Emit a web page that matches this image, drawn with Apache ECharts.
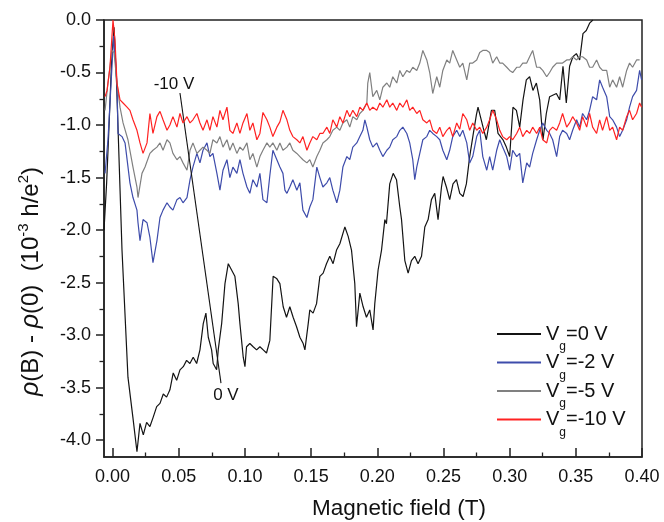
<!DOCTYPE html>
<html><head><meta charset="utf-8">
<script src="https://cdn.jsdelivr.net/npm/echarts@6/dist/echarts.min.js"></script>
<style>html,body{margin:0;padding:0;background:#fff}#c{width:664px;height:522px}</style>
</head><body><div id="c"></div>
<script>
const xMajorTicks = [0, 0.05, 0.10, 0.15, 0.20, 0.25, 0.30, 0.35, 0.40];
const xMinorTicks = [0.025, 0.075, 0.125, 0.175, 0.225, 0.275, 0.325, 0.375];
const yMajorTicks = [0, -0.5, -1.0, -1.5, -2.0, -2.5, -3.0, -3.5, -4.0];
const yMinorTicks = [-0.25, -0.75, -1.25, -1.75, -2.25, -2.75, -3.25, -3.75];
const seriesNames = ['Vg=0 V', 'Vg=-2 V', 'Vg=-5 V', 'Vg=-10 V'];
const legendTails = ['=0 V', '=-2 V', '=-5 V', '=-10 V'];
const seriesColors = ['#141414', '#3e4cab', '#808080', '#ff2222'];
const yAxisTitle = '{r|ρ}{n|(B) - }{r|ρ}{n|(0)  (10}{s|-3}{n| h/e}{s|2}{n|)}';
const xAxisTitle = 'Magnetic field (T)';

const vg0 = [[-0.0065,-2.00],[-0.0045,-1.55],[-0.0025,-0.95],[-0.0008,-0.40],[0.0011,-0.07],[0.0030,-0.60],[0.0071,-2.19],[0.0116,-3.40],[0.0154,-3.79],[0.0184,-4.11],[0.0207,-3.84],[0.0232,-3.95],[0.0257,-3.83],[0.0282,-3.87],[0.0307,-3.78],[0.0333,-3.68],[0.0358,-3.65],[0.0383,-3.56],[0.0408,-3.59],[0.0433,-3.52],[0.0458,-3.36],[0.0484,-3.43],[0.0509,-3.33],[0.0534,-3.30],[0.0559,-3.24],[0.0584,-3.27],[0.0609,-3.21],[0.0635,-3.27],[0.0660,-3.14],[0.0685,-2.89],[0.0705,-2.79],[0.0723,-3.02],[0.0748,-3.14],[0.0760,-3.27],[0.0786,-3.33],[0.0798,-3.14],[0.0824,-2.89],[0.0849,-2.51],[0.0874,-2.32],[0.0899,-2.38],[0.0924,-2.44],[0.0949,-2.70],[0.0962,-2.89],[0.0987,-3.21],[0.1000,-3.30],[0.1012,-3.11],[0.1037,-3.08],[0.1062,-3.11],[0.1088,-3.14],[0.1113,-3.11],[0.1138,-3.14],[0.1163,-3.17],[0.1188,-3.05],[0.1213,-2.44],[0.1239,-2.46],[0.1264,-2.51],[0.1289,-2.73],[0.1314,-2.83],[0.1339,-2.73],[0.1364,-2.83],[0.1390,-2.92],[0.1415,-3.02],[0.1440,-3.08],[0.1453,-3.14],[0.1478,-2.89],[0.1490,-2.76],[0.1515,-2.79],[0.1541,-2.70],[0.1566,-2.44],[0.1591,-2.41],[0.1616,-2.32],[0.1641,-2.25],[0.1666,-2.32],[0.1692,-2.19],[0.1717,-2.13],[0.1755,-1.97],[0.1780,-2.06],[0.1805,-2.19],[0.1830,-2.51],[0.1843,-2.92],[0.1868,-2.60],[0.1893,-2.73],[0.1918,-2.83],[0.1943,-2.76],[0.1968,-2.95],[0.1981,-2.70],[0.2006,-2.38],[0.2032,-2.19],[0.2057,-1.90],[0.2069,-1.94],[0.2094,-1.56],[0.2120,-1.46],[0.2145,-1.52],[0.2170,-1.78],[0.2183,-1.90],[0.2208,-2.29],[0.2233,-2.41],[0.2258,-2.29],[0.2283,-2.25],[0.2308,-2.32],[0.2334,-2.25],[0.2359,-1.97],[0.2384,-1.90],[0.2409,-1.71],[0.2434,-1.65],[0.2459,-1.90],[0.2485,-1.59],[0.2497,-1.49],[0.2522,-1.59],[0.2547,-1.71],[0.2572,-1.56],[0.2598,-1.52],[0.2623,-1.65],[0.2648,-1.68],[0.2673,-1.56],[0.2698,-1.30],[0.2723,-1.10],[0.2749,-0.90],[0.2761,-0.83],[0.2799,-1.02],[0.2824,-1.14],[0.2862,-0.86],[0.2887,-0.86],[0.2912,-1.08],[0.2950,-1.14],[0.2975,-1.21],[0.3000,-1.30],[0.3025,-0.83],[0.3051,-0.86],[0.3076,-1.02],[0.3101,-0.76],[0.3126,-0.57],[0.3151,-0.54],[0.3176,-0.67],[0.3202,-0.60],[0.3227,-0.76],[0.3252,-1.14],[0.3277,-0.89],[0.3302,-0.73],[0.3353,-0.70],[0.3378,-0.76],[0.3403,-0.44],[0.3428,-0.79],[0.3453,-0.44],[0.3478,-0.35],[0.3504,-0.32],[0.3529,-0.38],[0.3554,-0.13],[0.3579,-0.10],[0.3604,-0.03],[0.3629,0.00]];

const vg2 = [[-0.0057,-1.46],[-0.0035,-1.14],[-0.0005,-0.45],[0.0008,-0.15],[0.0033,-0.60],[0.0041,-1.08],[0.0071,-1.11],[0.0094,-1.17],[0.0131,-1.55],[0.0154,-1.69],[0.0184,-1.81],[0.0192,-1.93],[0.0207,-2.10],[0.0230,-1.90],[0.0260,-1.93],[0.0282,-2.07],[0.0305,-2.31],[0.0335,-2.10],[0.0358,-1.88],[0.0381,-1.81],[0.0411,-1.74],[0.0433,-1.78],[0.0456,-1.81],[0.0486,-1.71],[0.0509,-1.69],[0.0532,-1.74],[0.0562,-1.69],[0.0585,-1.52],[0.0607,-1.40],[0.0637,-1.27],[0.0660,-1.36],[0.0683,-1.24],[0.0713,-1.17],[0.0735,-1.30],[0.0758,-1.27],[0.0788,-1.46],[0.0811,-1.62],[0.0834,-1.43],[0.0864,-1.33],[0.0886,-1.50],[0.0909,-1.40],[0.0939,-1.46],[0.0962,-1.33],[0.0985,-1.46],[0.1015,-1.59],[0.1037,-1.65],[0.1060,-1.52],[0.1090,-1.59],[0.1113,-1.46],[0.1136,-1.71],[0.1166,-1.74],[0.1188,-1.48],[0.1211,-1.24],[0.1241,-1.33],[0.1264,-1.40],[0.1287,-1.46],[0.1302,-1.62],[0.1317,-1.65],[0.1339,-1.59],[0.1362,-1.52],[0.1392,-1.62],[0.1415,-1.55],[0.1438,-1.81],[0.1468,-1.88],[0.1490,-1.78],[0.1513,-1.71],[0.1543,-1.40],[0.1566,-1.50],[0.1589,-1.59],[0.1619,-1.55],[0.1641,-1.50],[0.1664,-1.62],[0.1694,-1.74],[0.1717,-1.62],[0.1740,-1.40],[0.1770,-1.30],[0.1792,-1.33],[0.1815,-1.21],[0.1845,-1.17],[0.1868,-1.11],[0.1891,-1.05],[0.1906,-0.95],[0.1921,-1.02],[0.1943,-1.14],[0.1966,-1.21],[0.1996,-1.17],[0.2019,-1.24],[0.2042,-1.30],[0.2072,-1.24],[0.2094,-1.21],[0.2117,-1.14],[0.2147,-1.11],[0.2170,-1.05],[0.2193,-1.02],[0.2223,-1.08],[0.2245,-1.17],[0.2268,-1.33],[0.2283,-1.52],[0.2298,-1.40],[0.2321,-1.27],[0.2344,-1.14],[0.2374,-1.11],[0.2396,-1.05],[0.2419,-1.08],[0.2449,-1.11],[0.2472,-1.14],[0.2495,-1.24],[0.2525,-1.33],[0.2547,-1.24],[0.2570,-1.11],[0.2600,-1.05],[0.2623,-1.11],[0.2646,-1.05],[0.2676,-1.17],[0.2698,-1.36],[0.2721,-1.30],[0.2751,-1.11],[0.2774,-1.05],[0.2797,-1.30],[0.2827,-1.43],[0.2849,-1.30],[0.2872,-1.43],[0.2902,-1.24],[0.2925,-1.14],[0.2947,-1.21],[0.2978,-1.30],[0.3000,-1.43],[0.3023,-1.24],[0.3053,-1.30],[0.3076,-1.27],[0.3099,-1.55],[0.3129,-1.36],[0.3151,-1.40],[0.3174,-1.27],[0.3204,-1.14],[0.3227,-1.05],[0.3250,-0.98],[0.3280,-1.05],[0.3302,-1.08],[0.3325,-1.14],[0.3355,-1.30],[0.3378,-1.11],[0.3400,-1.05],[0.3431,-1.08],[0.3453,-1.14],[0.3476,-1.05],[0.3506,-0.95],[0.3529,-1.02],[0.3551,-0.89],[0.3582,-0.95],[0.3604,-0.86],[0.3627,-0.73],[0.3657,-0.76],[0.3680,-0.57],[0.3702,-0.64],[0.3733,-0.73],[0.3756,-0.92],[0.3778,-0.95],[0.3808,-1.02],[0.3831,-1.11],[0.3854,-1.05],[0.3884,-0.95],[0.3906,-0.83],[0.3929,-0.73],[0.3959,-0.67],[0.3982,-0.48],[0.3997,-0.57]];

const vg5 = [[-0.0057,-0.86],[-0.0035,-0.60],[-0.0005,-0.29],[0.0011,-0.31],[0.0033,-0.60],[0.0056,-0.83],[0.0079,-0.98],[0.0116,-1.14],[0.0154,-1.40],[0.0184,-1.59],[0.0192,-1.69],[0.0222,-1.46],[0.0245,-1.40],[0.0282,-1.27],[0.0305,-1.24],[0.0335,-1.21],[0.0358,-1.17],[0.0381,-1.24],[0.0411,-1.14],[0.0433,-1.17],[0.0456,-1.27],[0.0486,-1.33],[0.0509,-1.30],[0.0532,-1.36],[0.0562,-1.43],[0.0585,-1.24],[0.0607,-1.17],[0.0637,-1.27],[0.0660,-1.24],[0.0683,-1.21],[0.0713,-1.24],[0.0735,-1.27],[0.0758,-1.14],[0.0788,-1.17],[0.0811,-1.11],[0.0834,-1.21],[0.0864,-1.14],[0.0886,-1.24],[0.0909,-1.17],[0.0939,-1.27],[0.0962,-1.21],[0.0985,-1.24],[0.1015,-1.17],[0.1037,-1.33],[0.1060,-1.27],[0.1090,-1.40],[0.1113,-1.30],[0.1136,-1.24],[0.1166,-1.17],[0.1188,-1.21],[0.1211,-1.17],[0.1241,-1.24],[0.1264,-1.17],[0.1287,-1.24],[0.1317,-1.21],[0.1339,-1.17],[0.1362,-1.24],[0.1392,-1.27],[0.1415,-1.30],[0.1438,-1.33],[0.1468,-1.36],[0.1490,-1.33],[0.1513,-1.40],[0.1543,-1.30],[0.1566,-1.24],[0.1589,-1.17],[0.1619,-1.14],[0.1641,-1.11],[0.1664,-1.05],[0.1694,-1.02],[0.1717,-1.05],[0.1740,-0.98],[0.1770,-0.95],[0.1792,-1.02],[0.1815,-0.92],[0.1845,-0.95],[0.1868,-0.89],[0.1891,-0.86],[0.1921,-0.79],[0.1928,-0.60],[0.1943,-0.50],[0.1966,-0.73],[0.1996,-0.67],[0.2019,-0.76],[0.2042,-0.64],[0.2072,-0.60],[0.2094,-0.64],[0.2117,-0.54],[0.2147,-0.60],[0.2170,-0.48],[0.2193,-0.54],[0.2223,-0.48],[0.2245,-0.50],[0.2268,-0.45],[0.2298,-0.48],[0.2321,-0.41],[0.2344,-0.29],[0.2374,-0.38],[0.2396,-0.50],[0.2419,-0.70],[0.2449,-0.54],[0.2472,-0.64],[0.2495,-0.48],[0.2525,-0.38],[0.2547,-0.41],[0.2570,-0.29],[0.2600,-0.38],[0.2623,-0.45],[0.2646,-0.41],[0.2676,-0.57],[0.2698,-0.41],[0.2721,-0.41],[0.2751,-0.38],[0.2774,-0.31],[0.2797,-0.29],[0.2827,-0.29],[0.2849,-0.31],[0.2872,-0.41],[0.2902,-0.35],[0.2925,-0.41],[0.2947,-0.41],[0.2978,-0.45],[0.3000,-0.48],[0.3023,-0.50],[0.3053,-0.45],[0.3076,-0.45],[0.3099,-0.41],[0.3129,-0.41],[0.3151,-0.35],[0.3174,-0.29],[0.3204,-0.45],[0.3227,-0.45],[0.3250,-0.48],[0.3280,-0.54],[0.3302,-0.50],[0.3325,-0.45],[0.3355,-0.41],[0.3378,-0.41],[0.3400,-0.41],[0.3431,-0.38],[0.3453,-0.38],[0.3476,-0.35],[0.3506,-0.38],[0.3529,-0.35],[0.3551,-0.35],[0.3582,-0.38],[0.3604,-0.45],[0.3627,-0.45],[0.3657,-0.38],[0.3680,-0.45],[0.3702,-0.48],[0.3733,-0.48],[0.3756,-0.64],[0.3778,-0.57],[0.3808,-0.64],[0.3831,-0.54],[0.3854,-0.64],[0.3884,-0.48],[0.3906,-0.41],[0.3929,-0.45],[0.3959,-0.38],[0.3982,-0.38]];

const vg10 = [[-0.0057,-0.73],[-0.0042,-0.67],[-0.0020,-0.45],[0.0003,0.00],[0.0018,-0.19],[0.0033,-0.60],[0.0056,-0.76],[0.0079,-0.79],[0.0109,-0.83],[0.0131,-0.86],[0.0154,-0.95],[0.0184,-1.05],[0.0207,-1.17],[0.0230,-1.27],[0.0260,-1.17],[0.0282,-0.89],[0.0305,-1.08],[0.0335,-0.92],[0.0358,-0.87],[0.0381,-0.95],[0.0411,-1.05],[0.0433,-1.00],[0.0456,-0.92],[0.0486,-1.02],[0.0509,-0.89],[0.0532,-0.98],[0.0562,-0.92],[0.0585,-0.98],[0.0607,-0.95],[0.0637,-0.89],[0.0660,-0.98],[0.0683,-1.05],[0.0713,-0.95],[0.0735,-1.05],[0.0758,-0.92],[0.0788,-1.02],[0.0811,-0.86],[0.0834,-0.95],[0.0864,-0.83],[0.0886,-1.05],[0.0909,-1.08],[0.0939,-0.98],[0.0962,-1.08],[0.0985,-0.98],[0.1015,-0.89],[0.1037,-1.05],[0.1060,-0.98],[0.1090,-1.14],[0.1113,-1.08],[0.1136,-0.88],[0.1166,-0.95],[0.1188,-1.02],[0.1211,-1.11],[0.1241,-1.02],[0.1264,-0.97],[0.1287,-0.86],[0.1317,-0.95],[0.1339,-1.05],[0.1362,-1.11],[0.1392,-1.14],[0.1415,-1.17],[0.1438,-1.11],[0.1468,-1.24],[0.1490,-1.17],[0.1513,-1.11],[0.1543,-1.14],[0.1566,-1.08],[0.1589,-1.08],[0.1619,-1.02],[0.1641,-1.08],[0.1664,-0.95],[0.1694,-1.02],[0.1717,-0.92],[0.1740,-0.98],[0.1770,-0.86],[0.1792,-0.92],[0.1815,-0.86],[0.1845,-0.92],[0.1868,-0.83],[0.1891,-0.86],[0.1921,-0.79],[0.1943,-0.86],[0.1966,-0.83],[0.1996,-0.86],[0.2019,-0.79],[0.2042,-0.83],[0.2072,-0.76],[0.2094,-0.83],[0.2117,-0.79],[0.2147,-0.86],[0.2170,-0.79],[0.2193,-0.83],[0.2223,-0.76],[0.2245,-0.86],[0.2268,-0.83],[0.2298,-0.89],[0.2321,-0.86],[0.2344,-0.95],[0.2374,-0.98],[0.2396,-0.95],[0.2419,-1.05],[0.2449,-1.08],[0.2472,-1.02],[0.2495,-1.11],[0.2525,-1.05],[0.2547,-1.02],[0.2570,-1.11],[0.2600,-0.98],[0.2623,-1.04],[0.2646,-0.89],[0.2676,-0.95],[0.2698,-1.05],[0.2721,-0.98],[0.2751,-1.05],[0.2774,-1.02],[0.2797,-1.08],[0.2827,-1.02],[0.2849,-0.95],[0.2872,-0.86],[0.2902,-0.95],[0.2925,-1.05],[0.2947,-1.11],[0.2978,-1.14],[0.3000,-1.11],[0.3023,-1.14],[0.3053,-1.08],[0.3076,-1.02],[0.3099,-1.11],[0.3129,-1.05],[0.3151,-1.08],[0.3174,-1.02],[0.3204,-1.08],[0.3227,-1.02],[0.3250,-1.14],[0.3280,-1.17],[0.3302,-1.05],[0.3325,-1.02],[0.3355,-1.05],[0.3378,-0.98],[0.3400,-0.89],[0.3431,-1.02],[0.3453,-0.98],[0.3476,-0.92],[0.3506,-0.98],[0.3529,-1.05],[0.3551,-0.92],[0.3582,-1.02],[0.3604,-0.89],[0.3627,-1.02],[0.3657,-1.08],[0.3680,-0.95],[0.3702,-1.05],[0.3733,-0.92],[0.3756,-1.05],[0.3778,-1.02],[0.3808,-1.14],[0.3831,-1.02],[0.3854,-1.05],[0.3884,-0.92],[0.3906,-0.86],[0.3929,-0.95],[0.3959,-0.89],[0.3982,-0.79],[0.3997,-0.83]];

const seriesData = [vg0, vg2, vg5, vg10];
const annotations = [
  { text: '-10 V', x: 0.0464, y: -0.61 },
  { text: '0 V', x: 0.0856, y: -3.57 }
];
const arrowFrom = [0.0819, -3.457];
const arrowTo = [0.0509, -0.695];

const FONT = "'Liberation Sans', Arial, sans-serif";
const AX = '#222';

const chart = echarts.init(document.getElementById('c'), null, { renderer: 'canvas' });

const series = seriesData.map((d, i) => ({
  name: seriesNames[i],
  type: 'line',
  data: d,
  xAxisIndex: 0,
  yAxisIndex: 0,
  symbol: 'none',
  showSymbol: false,
  smooth: false,
  lineStyle: { color: seriesColors[i], width: 1.2 },
  itemStyle: { color: seriesColors[i] },
  z: 2 + i,
  animation: false
}));

series[0].markLine = {
  silent: true,
  symbol: ['none', 'arrow'],
  symbolSize: [0, 9],
  lineStyle: { color: '#111', width: 1.1, type: 'solid' },
  label: { show: false },
  animation: false,
  data: [[{ coord: arrowFrom }, { coord: arrowTo }]]
};
series[0].markPoint = {
  silent: true,
  symbol: 'circle',
  symbolSize: 0,
  animation: false,
  label: { show: true, position: 'inside', color: '#111', fontSize: 17, fontFamily: FONT },
  data: annotations.map(a => ({ coord: [a.x, a.y], value: a.text, label: { formatter: a.text } }))
};

const option = {
  animation: false,
  backgroundColor: '#fff',
  textStyle: { fontFamily: FONT },
  grid: { left: 104, right: 22, top: 20, bottom: 65, show: true, borderColor: AX, borderWidth: 1.5, backgroundColor: 'transparent', containLabel: false, outerBoundsMode: 'none' },
  legend: {
    orient: 'vertical',
    left: 497,
    top: 315,
    padding: 0,
    icon: 'rect',
    itemWidth: 44,
    itemHeight: 2,
    itemGap: -9.5,
    data: seriesNames,
    selectedMode: false,
    formatter: name => '{v|V}{g|g}{v|' + legendTails[seriesNames.indexOf(name)] + '}',
    textStyle: {
      color: '#111',
      fontFamily: FONT,
      rich: {
        v: { fontSize: 20, lineHeight: 20, verticalAlign: 'middle', color: '#111', fontFamily: FONT },
        g: { fontSize: 12, lineHeight: 12, padding: [26, 0, 0, 0], verticalAlign: 'middle', color: '#111', fontFamily: FONT }
      }
    }
  },
  graphic: [
    {
      type: 'text',
      x: 31,
      y: 396,
      rotation: Math.PI / 2,
      silent: true,
      style: {
        text: yAxisTitle,
        align: 'left',
        verticalAlign: 'middle',
        fill: '#111',
        font: "24px 'Liberation Sans', Arial, sans-serif",
        rich: {
          r: { fontSize: 25, fontStyle: 'italic', lineHeight: 30, fill: '#111', fontFamily: FONT },
          n: { fontSize: 24, lineHeight: 30, fill: '#111', fontFamily: FONT },
          s: { fontSize: 15, lineHeight: 15, verticalAlign: 'top', fill: '#111', fontFamily: FONT }
        }
      }
    }
  ],
  xAxis: [
    {
      type: 'value', min: -0.0065, max: 0.40, position: 'bottom',
      axisLine: { show: true, onZero: false, lineStyle: { color: AX, width: 1.5 } },
      axisTick: { show: true, inside: true, length: 9, customValues: xMajorTicks, lineStyle: { color: AX, width: 1.5 } },
      axisLabel: { show: true, customValues: xMajorTicks, formatter: v => v.toFixed(2), fontSize: 18, color: '#111', margin: 11, fontFamily: FONT },
      splitLine: { show: false },
      name: xAxisTitle, nameLocation: 'middle', nameGap: 40,
      nameTextStyle: { fontSize: 22.5, color: '#111', fontFamily: FONT, padding: [0, 0, 0, 52] }
    },
    {
      type: 'value', min: -0.0065, max: 0.40, position: 'bottom',
      axisLine: { show: false, onZero: false },
      axisTick: { show: true, inside: true, length: 4.5, customValues: xMinorTicks, lineStyle: { color: AX, width: 1.3 } },
      axisLabel: { show: false },
      splitLine: { show: false }
    }
  ],
  yAxis: [
    {
      type: 'value', min: -4.16, max: 0, position: 'left',
      axisLine: { show: true, onZero: false, lineStyle: { color: AX, width: 1.5 } },
      axisTick: { show: true, inside: false, length: 8, customValues: yMajorTicks, lineStyle: { color: AX, width: 1.5 } },
      axisLabel: { show: true, customValues: yMajorTicks, formatter: v => v.toFixed(1), fontSize: 18, color: '#111', margin: 13, fontFamily: FONT },
      splitLine: { show: false }
    },
    {
      type: 'value', min: -4.16, max: 0, position: 'left',
      axisLine: { show: false, onZero: false },
      axisTick: { show: true, inside: false, length: 4.5, customValues: yMinorTicks, lineStyle: { color: AX, width: 1.3 } },
      axisLabel: { show: false },
      splitLine: { show: false }
    }
  ],
  series: series
};
chart.setOption(option);
</script>
</body></html>
